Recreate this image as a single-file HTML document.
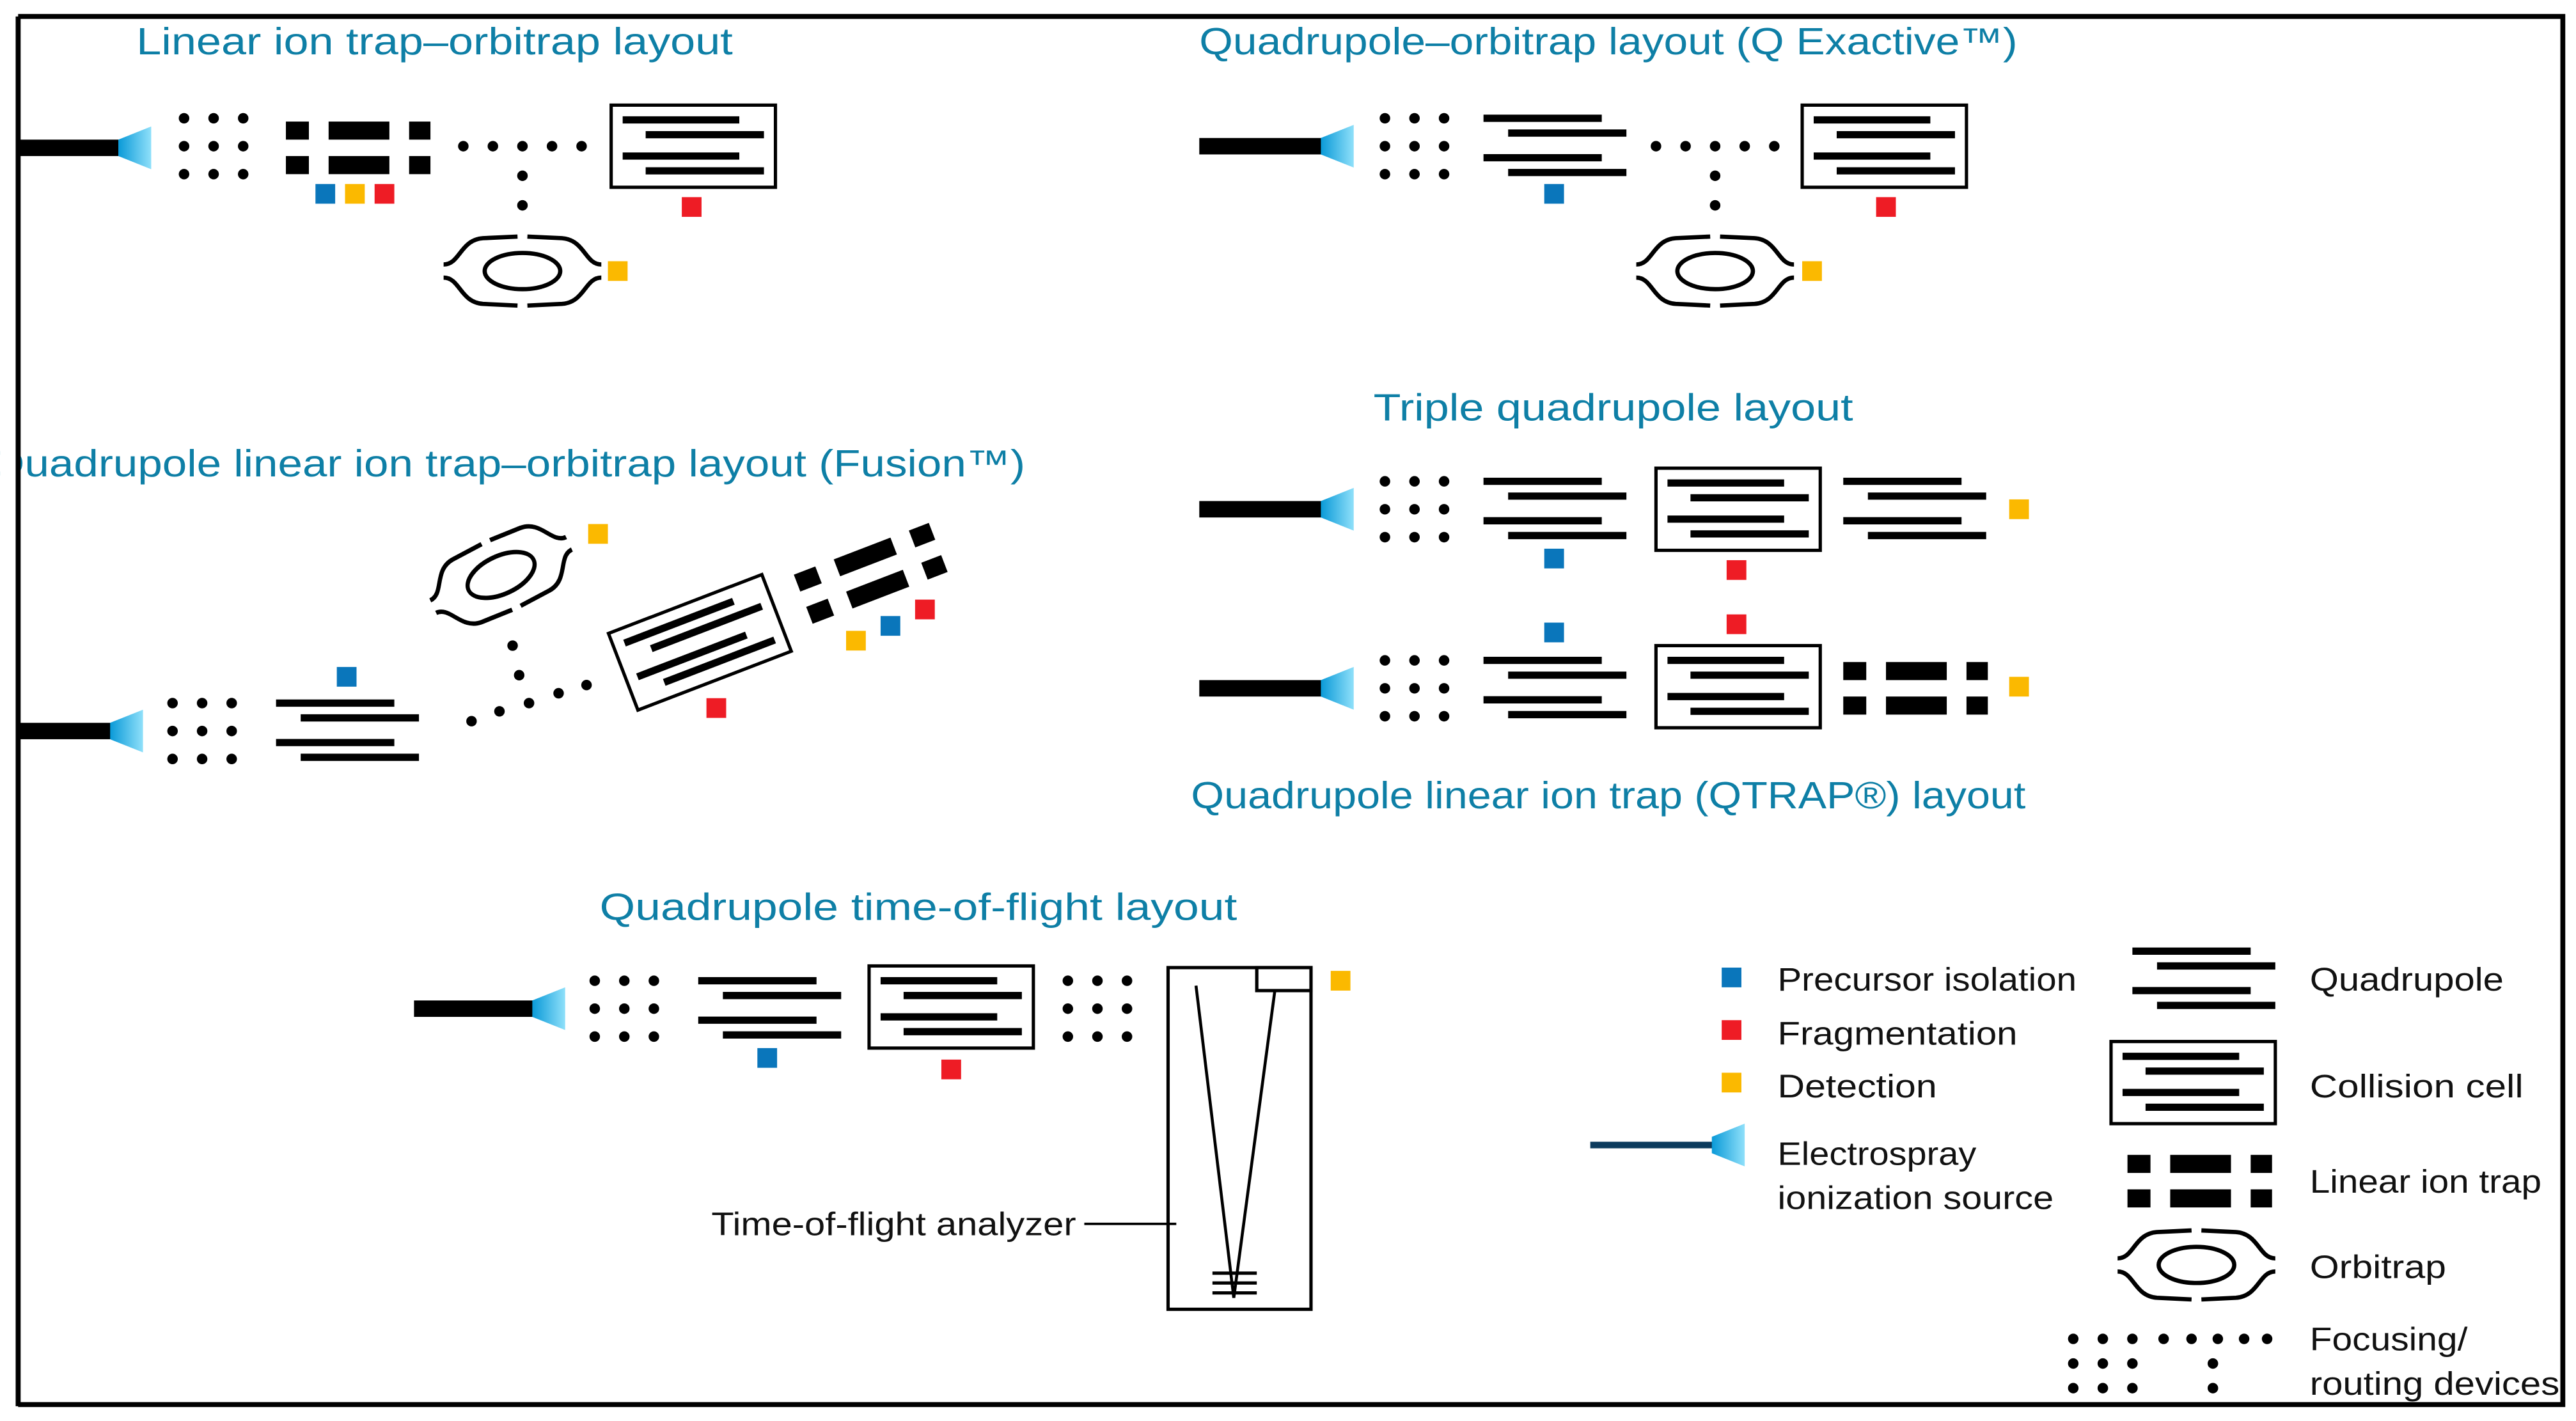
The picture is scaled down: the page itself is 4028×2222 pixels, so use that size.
<!DOCTYPE html>
<html><head><meta charset="utf-8"><style>html,body{margin:0;padding:0;background:#fff}svg{display:block}</style></head><body>
<svg xmlns="http://www.w3.org/2000/svg" width="4028" height="2222" viewBox="0 0 1568 865">
<defs>
<linearGradient id="cg" x1="0" x2="1" y1="0" y2="0"><stop offset="0" stop-color="#0a9ad8"/><stop offset="1" stop-color="#8fe0fa"/></linearGradient>
<g id="cone"><polygon points="0,-5 20,-13 20,13 0,5" fill="url(#cg)"/></g>
<g id="dots" fill="#000"><circle cx="0" cy="-17" r="3.2"/><circle cx="18" cy="-17" r="3.2"/><circle cx="36" cy="-17" r="3.2"/><circle cx="0" cy="0" r="3.2"/><circle cx="18" cy="0" r="3.2"/><circle cx="36" cy="0" r="3.2"/><circle cx="0" cy="17" r="3.2"/><circle cx="18" cy="17" r="3.2"/><circle cx="36" cy="17" r="3.2"/></g>
<g id="quad" stroke="#000" stroke-width="4.4"><line x1="0" y1="-17" x2="72" y2="-17"/><line x1="15" y1="-8" x2="87" y2="-8"/><line x1="0" y1="7" x2="72" y2="7"/><line x1="15" y1="16" x2="87" y2="16"/></g>
<g id="cell"><rect x="0" y="-25" width="100" height="50" fill="#fff" stroke="#000" stroke-width="2"/><g stroke="#000" stroke-width="4.4"><line x1="7" y1="-16" x2="78" y2="-16"/><line x1="21" y1="-7" x2="93" y2="-7"/><line x1="7" y1="6" x2="78" y2="6"/><line x1="21" y1="15" x2="93" y2="15"/></g></g>
<g id="lit" fill="#000"><rect x="0" y="-16" width="14" height="11"/><rect x="26" y="-16" width="37" height="11"/><rect x="75" y="-16" width="13" height="11"/><rect x="0" y="5" width="14" height="11"/><rect x="26" y="5" width="37" height="11"/><rect x="75" y="5" width="13" height="11"/></g>
<g id="orb" fill="none" stroke="#000" stroke-width="2.6"><ellipse cx="0" cy="0" rx="23" ry="11"/><path d="M-48,-4 C-38,-4 -38,-19 -24,-20 L-3,-21 M3,-21 L24,-20 C38,-19 38,-4 48,-4"/><path d="M-48,4 C-38,4 -38,19 -24,20 L-3,21 M3,21 L24,20 C38,19 38,4 48,4"/></g>
</defs>
<rect x="11" y="10" width="1549" height="845" fill="none" stroke="#000" stroke-width="3"/>
<g font-family="Liberation Sans, sans-serif" fill="#0e7fa6" font-size="23">
<text x="83" y="33" textLength="363" lengthAdjust="spacingAndGlyphs">Linear ion trap–orbitrap layout</text>
<text x="730" y="33" textLength="498" lengthAdjust="spacingAndGlyphs">Quadrupole–orbitrap layout (Q Exactive™)</text>
<text x="836" y="256" textLength="292" lengthAdjust="spacingAndGlyphs">Triple quadrupole layout</text>
<text x="-6" y="290" textLength="630" lengthAdjust="spacingAndGlyphs">Quadrupole linear ion trap–orbitrap layout (Fusion™)</text>
<text x="725" y="492" textLength="508" lengthAdjust="spacingAndGlyphs">Quadrupole linear ion trap (QTRAP®) layout</text>
<text x="365" y="560" textLength="388" lengthAdjust="spacingAndGlyphs">Quadrupole time-of-flight layout</text>
</g>
<rect x="0" y="0" width="11" height="865" fill="#fff"/>
<line x1="11" y1="10" x2="11" y2="856" stroke="#000" stroke-width="3"/>
<rect x="11" y="85" width="62" height="10"/><use href="#cone" x="72" y="90"/>
<use href="#dots" x="112" y="89"/><use href="#lit" x="174" y="90"/>
<g fill="#000"><circle cx="282" cy="89" r="3.2"/><circle cx="300" cy="89" r="3.2"/><circle cx="318" cy="89" r="3.2"/><circle cx="336" cy="89" r="3.2"/><circle cx="354" cy="89" r="3.2"/><circle cx="318" cy="107" r="3.2"/><circle cx="318" cy="125" r="3.2"/></g>
<use href="#cell" x="372" y="89"/>
<rect x="192" y="112" width="12" height="12" fill="#0a76bb"/><rect x="210" y="112" width="12" height="12" fill="#fbb900"/><rect x="228" y="112" width="12" height="12" fill="#ee1c25"/>
<rect x="415" y="120" width="12" height="12" fill="#ee1c25"/>
<use href="#orb" x="318" y="165"/><rect x="370" y="159" width="12" height="12" fill="#fbb900"/>
<rect x="730" y="84" width="75" height="10"/><use href="#cone" x="804" y="89"/>
<use href="#dots" x="843" y="89"/><use href="#quad" x="903" y="89"/>
<g fill="#000"><circle cx="1008" cy="89" r="3.2"/><circle cx="1026" cy="89" r="3.2"/><circle cx="1044" cy="89" r="3.2"/><circle cx="1062" cy="89" r="3.2"/><circle cx="1080" cy="89" r="3.2"/><circle cx="1044" cy="107" r="3.2"/><circle cx="1044" cy="125" r="3.2"/></g>
<use href="#cell" x="1097" y="89"/>
<rect x="940" y="112" width="12" height="12" fill="#0a76bb"/><rect x="1142" y="120" width="12" height="12" fill="#ee1c25"/>
<use href="#orb" x="1044" y="165"/><rect x="1097" y="159" width="12" height="12" fill="#fbb900"/>
<rect x="730" y="305" width="75" height="10"/><use href="#cone" x="804" y="310"/>
<use href="#dots" x="843" y="310"/><use href="#quad" x="903" y="310"/>
<use href="#cell" x="1008" y="310"/><use href="#quad" x="1122" y="310"/>
<rect x="940" y="334" width="12" height="12" fill="#0a76bb"/><rect x="1051" y="341" width="12" height="12" fill="#ee1c25"/><rect x="1223" y="304" width="12" height="12" fill="#fbb900"/>
<rect x="730" y="414" width="75" height="10"/><use href="#cone" x="804" y="419"/>
<use href="#dots" x="843" y="419"/><use href="#quad" x="903" y="419"/>
<use href="#cell" x="1008" y="418"/><use href="#lit" x="1122" y="419"/>
<rect x="940" y="379" width="12" height="12" fill="#0a76bb"/><rect x="1051" y="374" width="12" height="12" fill="#ee1c25"/><rect x="1223" y="412" width="12" height="12" fill="#fbb900"/>
<rect x="11" y="440" width="57" height="10"/><use href="#cone" x="67" y="445"/>
<use href="#dots" x="105" y="445"/><use href="#quad" x="168" y="445"/>
<rect x="205" y="406" width="12" height="12" fill="#0a76bb"/>
<g fill="#000"><circle cx="287" cy="439" r="3.2"/><circle cx="304" cy="433" r="3.2"/><circle cx="322" cy="428" r="3.2"/><circle cx="340" cy="422" r="3.2"/><circle cx="357" cy="417" r="3.2"/><circle cx="312" cy="393" r="3.2"/><circle cx="316" cy="411" r="3.2"/></g>
<g transform="translate(426,391) rotate(-21)"><use href="#cell" x="-50" y="0"/></g>
<rect x="430" y="425" width="12" height="12" fill="#ee1c25"/>
<g transform="translate(530,349) rotate(-21)"><use href="#lit" x="-44" y="0"/></g>
<rect x="515" y="384" width="12" height="12" fill="#fbb900"/><rect x="536" y="375" width="12" height="12" fill="#0a76bb"/><rect x="557" y="365" width="12" height="12" fill="#ee1c25"/>
<g transform="translate(305,350) rotate(-25) scale(0.95,1.05)"><use href="#orb"/></g>
<rect x="358" y="319" width="12" height="12" fill="#fbb900"/>
<rect x="252" y="609" width="73" height="10"/><use href="#cone" x="324" y="614"/>
<use href="#dots" x="362" y="614"/><use href="#quad" x="425" y="614"/>
<use href="#cell" x="529" y="613"/><use href="#dots" x="650" y="614"/>
<rect x="461" y="638" width="12" height="12" fill="#0a76bb"/><rect x="573" y="645" width="12" height="12" fill="#ee1c25"/>
<rect x="711" y="589" width="87" height="208" fill="none" stroke="#000" stroke-width="2"/>
<rect x="765" y="589" width="33" height="14" fill="#fff" stroke="#000" stroke-width="2"/>
<polyline points="728,600 751,790 776,603" fill="none" stroke="#000" stroke-width="1.8"/>
<g stroke="#000" stroke-width="2"><line x1="738" y1="775" x2="765" y2="775"/><line x1="738" y1="781" x2="765" y2="781"/><line x1="738" y1="787" x2="765" y2="787"/></g>
<rect x="810" y="591" width="12" height="12" fill="#fbb900"/>
<line x1="660" y1="745" x2="716" y2="745" stroke="#000" stroke-width="1.5"/>
<g font-family="Liberation Sans, sans-serif" fill="#111" font-size="20">
<text x="433" y="752" textLength="222" lengthAdjust="spacingAndGlyphs">Time-of-flight analyzer</text>
<text x="1082" y="603" textLength="182" lengthAdjust="spacingAndGlyphs">Precursor isolation</text>
<text x="1082" y="636" textLength="146" lengthAdjust="spacingAndGlyphs">Fragmentation</text>
<text x="1082" y="668" textLength="97" lengthAdjust="spacingAndGlyphs">Detection</text>
<text x="1082" y="709" textLength="121" lengthAdjust="spacingAndGlyphs">Electrospray</text>
<text x="1082" y="736" textLength="168" lengthAdjust="spacingAndGlyphs">ionization source</text>
<text x="1406" y="603" textLength="118" lengthAdjust="spacingAndGlyphs">Quadrupole</text>
<text x="1406" y="668" textLength="130" lengthAdjust="spacingAndGlyphs">Collision cell</text>
<text x="1406" y="726" textLength="141" lengthAdjust="spacingAndGlyphs">Linear ion trap</text>
<text x="1406" y="778" textLength="83" lengthAdjust="spacingAndGlyphs">Orbitrap</text>
<text x="1406" y="822" textLength="96" lengthAdjust="spacingAndGlyphs">Focusing/</text>
<text x="1406" y="849" textLength="152" lengthAdjust="spacingAndGlyphs">routing devices</text>
</g>
<rect x="1048" y="589" width="12" height="12" fill="#0a76bb"/><rect x="1048" y="621" width="12" height="12" fill="#ee1c25"/><rect x="1048" y="653" width="12" height="12" fill="#fbb900"/>
<rect x="968" y="695" width="75" height="4" fill="#0d3c5e"/><use href="#cone" x="1042" y="697"/>
<use href="#quad" x="1298" y="596"/>
<use href="#cell" x="1285" y="659"/>
<use href="#lit" x="1295" y="719"/>
<use href="#orb" x="1337" y="770"/>
<g fill="#000"><circle cx="1262" cy="815" r="3.2"/><circle cx="1280" cy="815" r="3.2"/><circle cx="1298" cy="815" r="3.2"/><circle cx="1262" cy="830" r="3.2"/><circle cx="1280" cy="830" r="3.2"/><circle cx="1298" cy="830" r="3.2"/><circle cx="1262" cy="845" r="3.2"/><circle cx="1280" cy="845" r="3.2"/><circle cx="1298" cy="845" r="3.2"/><circle cx="1317" cy="815" r="3.2"/><circle cx="1334" cy="815" r="3.2"/><circle cx="1350" cy="815" r="3.2"/><circle cx="1366" cy="815" r="3.2"/><circle cx="1380" cy="815" r="3.2"/><circle cx="1347" cy="830" r="3.2"/><circle cx="1347" cy="845" r="3.2"/></g>
</svg>
</body></html>
